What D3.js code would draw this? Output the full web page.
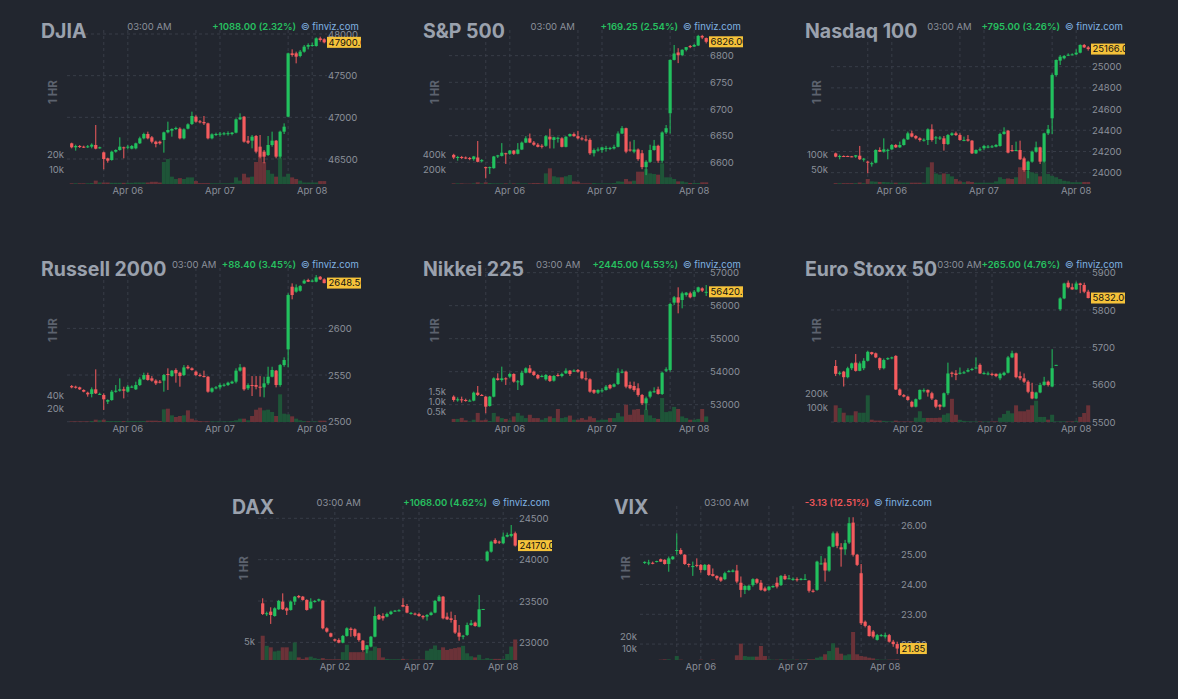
<!DOCTYPE html>
<html>
<head>
<meta charset="utf-8">
<title>Futures</title>
<script src="https://cdnjs.cloudflare.com/ajax/libs/d3/7.8.5/d3.min.js"></script>
<style>
    body { margin: 0; background: #22262f; font-family: Inter, "Noto Sans", sans-serif; }
    #grid { display: flex; flex-wrap: wrap; justify-content: center; width: 1146px; }
    svg { display: block; }
</style>
</head>
<body>
<div id="grid"></div>
<script>
// [open, high, low, close] per 1 hour candle
var djiaOHLC = [
    [46688,46696,46628,46640],[46640,46672,46600,46656],[46656,46668,46632,46648],[46648,46660,46632,46644],
    [46644,46668,46632,46652],[46648,46688,46628,46672],[46668,46908,46616,46624],[46632,46648,46624,46640],
    [46580,46588,46376,46500],[46508,46516,46456,46480],[46488,46600,46480,46588],[46588,46616,46576,46608],
    [46608,46760,46600,46648],[46640,46648,46508,46636],[46636,46668,46616,46648],[46624,46668,46616,46656],
    [46628,46696,46616,46688],[46688,46768,46680,46748],[46748,46816,46736,46800],[46800,46828,46736,46748],
    [46760,46776,46688,46708],[46708,46720,46640,46680],[46708,46720,46672,46688],[46728,46828,46576,46820],
    [46820,46948,46808,46848],[46840,46868,46768,46860],[46860,46888,46848,46872],[46864,46880,46736,46748],
    [46748,46868,46736,46856],[46864,46928,46856,46916],[46920,47068,46908,47016],[47008,47024,46936,46948],
    [46952,46968,46928,46944],[46944,47016,46908,46928],[46928,46936,46736,46748],[46748,46808,46736,46796],
    [46796,46816,46776,46800],[46800,46824,46768,46804],[46804,46824,46784,46808],[46808,46832,46780,46810],
    [46800,46824,46784,46816],[46816,46988,46808,46976],[46976,47048,46968,47000],[47008,47016,46696,46708],
    [46720,46776,46680,46696],[46720,46788,46628,46768],[46776,46788,46568,46588],[46648,46788,46508,46528],
    [46588,46608,46448,46528],[46548,46776,46536,46668],[46668,46828,46648,46720],[46720,46728,46508,46528],
    [46528,46840,46508,46828],[46828,46928,46800,46888],[47008,47776,47000,47768],[47768,47816,47728,47748],
    [47768,47788,47648,47728],[47736,47808,47720,47788],[47788,47868,47776,47848],[47848,47888,47816,47868],
    [47856,47896,47848,47868],[47856,47960,47848,47948],[47948,47968,47908,47928],[47936,47948,47888,47900]
];
var djiaVolume = [0.5,0.5,0.5,0.5,0.5,0.7,2.3,1,1,1,0.8,0.8,0.8,0.8,0.8,0.8,1,1,1,1,1.5,1.5,1,15,17,5,3.4,4,3.4,4.5,4.5,2,
    0.6,0.6,0.6,0.5,0.5,0.5,0.5,0.5,0.8,4.5,2.3,7,4.5,5,15,19,15,9.5,7,5,18,5,7,4.5,3.4,2.3,1,1,1,1,2,2];

var spxOHLC = [
    [6614,6616,6606,6609],[6609,6612,6603,6610],[6610,6612,6606,6609],[6609,6611,6606,6608],
    [6608,6610,6604,6607],[6606,6612,6603,6611],[6609,6640,6600,6601],[6602,6606,6600,6604],
    [6591,6592,6570,6589],[6590,6592,6578,6591],[6589,6612,6588,6611],[6611,6614,6608,6613],
    [6612,6636,6611,6618],[6617,6618,6597,6616],[6616,6623,6614,6622],[6622,6623,6614,6616],
    [6616,6636,6615,6624],[6624,6639,6623,6637],[6637,6649,6636,6645],[6645,6654,6636,6637],
    [6637,6640,6631,6633],[6633,6636,6628,6629],[6631,6634,6626,6630],[6631,6651,6629,6649],
    [6648,6663,6626,6643],[6642,6648,6626,6647],[6645,6648,6637,6646],[6645,6647,6628,6629],
    [6629,6649,6628,6648],[6649,6654,6648,6653],[6653,6656,6648,6649],[6649,6659,6643,6645],
    [6645,6648,6641,6643],[6643,6651,6639,6641],[6642,6645,6614,6617],[6617,6626,6611,6623],
    [6623,6628,6620,6624],[6623,6629,6618,6628],[6626,6631,6620,6627],[6626,6629,6623,6627],
    [6626,6633,6624,6629],[6629,6658,6628,6654],[6654,6668,6653,6664],[6664,6665,6617,6620],
    [6624,6639,6620,6623],[6620,6642,6617,6624],[6624,6626,6603,6606],[6617,6623,6587,6591],
    [6591,6604,6576,6601],[6601,6633,6599,6623],[6623,6642,6622,6631],[6631,6633,6599,6603],
    [6603,6658,6599,6656],[6656,6670,6653,6664],[6692,6793,6654,6792],[6792,6820,6791,6804],
    [6806,6814,6786,6801],[6801,6812,6799,6811],[6811,6816,6808,6816],[6818,6820,6814,6816],
    [6817,6822,6816,6820],[6819,6839,6818,6837],[6837,6839,6831,6834],[6833,6834,6823,6826]
];
var spxVolume = [9,9,9,5,5,9,23,9,23,14,9,9,9,9,9,9,9,9,9,9,14,14,9,145,214,105,91,91,105,123,36,32,
    9,9,9,14,9,9,9,9,14,36,32,68,36,45,168,168,205,145,136,127,282,91,91,68,36,36,23,14,14,14,23,23];

var ndxOHLC = [
    [24182,24189,24145,24151],[24151,24170,24126,24157],[24157,24163,24148,24156],[24157,24161,24148,24154],
    [24154,24158,24145,24151],[24151,24167,24139,24164],[24160,24252,24120,24126],[24126,24139,24104,24132],
    [24104,24113,23994,24094],[24088,24104,24057,24089],[24094,24220,24088,24214],[24214,24239,24195,24198],
    [24198,24324,24189,24220],[24214,24226,24126,24215],[24220,24270,24214,24261],[24261,24270,24233,24239],
    [24239,24293,24233,24261],[24261,24324,24255,24314],[24314,24387,24308,24371],[24371,24396,24333,24340],
    [24346,24355,24314,24324],[24324,24333,24293,24308],[24308,24324,24293,24311],[24308,24418,24261,24409],
    [24409,24456,24293,24308],[24324,24346,24270,24333],[24330,24346,24308,24331],[24324,24346,24208,24270],
    [24270,24365,24261,24355],[24355,24381,24346,24371],[24371,24387,24346,24355],[24355,24371,24302,24308],
    [24308,24340,24296,24309],[24314,24355,24293,24302],[24302,24308,24176,24182],[24182,24220,24176,24214],
    [24214,24239,24201,24220],[24230,24261,24214,24252],[24245,24261,24230,24246],[24245,24261,24233,24248],
    [24245,24270,24239,24261],[24252,24377,24245,24365],[24365,24428,24358,24387],[24396,24403,24182,24189],
    [24214,24261,24198,24213],[24208,24293,24201,24214],[24214,24302,24120,24126],[24135,24151,24009,24025],
    [24025,24113,23947,24104],[24104,24208,24094,24198],[24198,24293,24189,24239],[24239,24245,24082,24104],
    [24104,24377,24094,24371],[24371,24450,24355,24409],[24513,24937,24365,24921],[24921,25069,24906,25063],
    [25057,25110,25016,25094],[25079,25110,25069,25101],[25110,25126,25101,25113],[25113,25126,25107,25116],
    [25116,25164,25110,25132],[25132,25211,25126,25205],[25205,25214,25176,25182],[25182,25195,25151,25166]
];
var ndxVolume = [3,3,3,3,3,3,5,3,17,9,8,7,7,6,4.5,4.5,4.5,4.5,4.5,4.5,4.5,4.5,4.5,57,74,36,32,36,34,26,17,9,
    6,9,7,4.5,4.5,4.5,4.5,4.5,9,23,17,19,17,23,57,74,45,40,36,26,74,34,28,23,17,11,9,6,6,6,7,7];

var rutOHLC = [
    [2538.2,2539.3,2535.8,2536.8],[2537.5,2538.6,2535.5,2536.5],[2536.8,2537.5,2534.0,2534.7],[2534.0,2534.7,2531.5,2532.2],
    [2531.1,2532.2,2526.8,2529.3],[2529.7,2536.8,2526.1,2534.7],[2534.7,2556.1,2529.7,2530.4],[2529.7,2531.1,2528.6,2529.8],
    [2528.6,2530.4,2512.5,2524.0],[2521.5,2524.0,2519.0,2523.2],[2523.2,2534.0,2522.5,2532.2],[2532.2,2539.3,2531.1,2533.2],
    [2533.2,2546.5,2532.2,2534.7],[2534.7,2537.5,2525.0,2533.2],[2532.2,2539.3,2531.1,2537.5],[2537.5,2538.9,2536.1,2537.6],
    [2534.7,2542.9,2534.0,2539.3],[2539.3,2547.5,2538.2,2545.4],[2545.4,2552.5,2544.7,2550.0],[2550.0,2552.5,2544.0,2544.7],
    [2546.5,2548.9,2542.9,2544.0],[2544.0,2545.4,2539.3,2541.1],[2542.9,2544.7,2541.1,2542.5],[2544.0,2551.1,2532.2,2550.0],
    [2551.1,2557.2,2534.0,2550.0],[2548.9,2555.4,2548.2,2554.7],[2555.4,2557.2,2541.8,2551.8],[2552.5,2553.6,2537.5,2548.9],
    [2550.0,2560.7,2548.9,2558.2],[2558.9,2560.7,2556.1,2557.2],[2557.2,2558.2,2554.7,2555.4],[2553.6,2554.7,2548.9,2550.0],
    [2550.0,2551.8,2548.2,2548.9],[2548.9,2554.7,2547.5,2548.2],[2548.2,2548.9,2531.1,2532.2],[2532.2,2536.8,2531.1,2535.8],
    [2536.1,2538.2,2534.7,2536.8],[2536.8,2541.1,2534.7,2539.3],[2539.3,2541.1,2537.5,2539.6],[2539.3,2542.9,2538.2,2541.8],
    [2541.1,2544.0,2540.4,2542.9],[2542.9,2557.2,2541.1,2554.7],[2554.7,2561.8,2553.6,2558.2],[2558.2,2558.9,2533.2,2534.7],
    [2535.8,2541.1,2534.0,2539.3],[2539.3,2548.9,2527.5,2538.9],[2539.3,2548.9,2534.7,2537.5],[2537.5,2548.9,2526.8,2536.8],
    [2536.8,2548.2,2526.1,2541.1],[2541.1,2558.9,2539.3,2548.2],[2548.2,2558.9,2547.5,2555.4],[2554.7,2555.4,2536.8,2539.3],
    [2539.3,2561.8,2537.5,2560.7],[2560.7,2569.0,2558.9,2566.1],[2577.5,2637.5,2558.2,2635.7],[2644.6,2648.2,2631.1,2635.7],
    [2639.3,2647.1,2638.2,2643.9],[2640.3,2646.4,2639.3,2645.3],[2648.2,2652.5,2647.5,2651.1],[2651.8,2653.2,2649.6,2650.0],
    [2650.7,2652.5,2649.6,2651.1],[2650.0,2657.1,2649.3,2654.6],[2655.3,2656.1,2651.8,2652.5],[2652.5,2653.6,2648.2,2648.5]
];
var rutVolume = [1,1,1,1,1,1.5,3.5,2.5,3.5,1.5,1.5,1.5,1.5,1.5,1.5,1.5,1.5,1.5,1.5,2,2,2,1.5,19,20,10,7.5,9,10,17.5,5,2.5,
    1.5,1,1,1,1,1,1,1,1.5,2.5,5,5,2.5,9,18.5,21.5,17.5,18.5,15,9,41.5,12.5,11.5,8.5,5,2.5,1.5,1,1,1,2,2];

var nikkeiOHLC = [
    [53243,53283,53091,53142],[53142,53223,53091,53162],[53162,53243,53061,53142],[53142,53182,53091,53122],
    [53122,53162,53102,53123],[53122,53395,53102,53364],[53364,53566,53263,53294],[53294,53324,53263,53283],
    [53243,53263,52738,52940],[52960,53263,52940,53243],[53243,53829,53223,53798],[53798,53950,53728,53748],
    [53748,54152,53698,53798],[53798,53829,53597,53768],[53849,53970,53809,53930],[53930,53950,53667,53698],
    [53698,53748,53445,53708],[53597,54031,53566,53970],[53970,54132,53950,54101],[54101,54202,53950,53970],
    [54000,54031,53869,53899],[53899,53930,53768,53798],[53869,53909,53829,53870],[53768,53930,53728,53899],
    [53869,53899,53687,53718],[53728,53899,53698,53869],[53899,53950,53849,53869],[53869,53970,53829,53930],
    [53950,54101,53930,54031],[54031,54051,53869,53930],[54031,54071,53990,54032],[54051,54081,53970,54000],
    [54000,54031,53768,53798],[53798,54000,53728,53788],[53768,53798,53364,53395],[53445,53465,53324,53364],
    [53364,53465,53324,53445],[53425,53496,53364,53435],[53445,53597,53425,53546],[53597,53627,53465,53496],
    [53546,53647,53526,53617],[53627,54101,53597,53970],[53970,54071,53950,54000],[54000,54031,53496,53546],
    [53597,53698,53465,53496],[53566,53698,53395,53445],[53496,53647,53243,53294],[53294,53324,52990,53041],
    [53041,53243,52839,53192],[53243,53425,53192,53395],[53395,53526,53364,53405],[53465,53546,53304,53324],
    [53324,54000,53294,53970],[54031,54132,53990,54071],[54051,56091,54000,56051],[56091,56293,56020,56253],
    [56253,56556,55768,56091],[56172,56424,55919,56374],[56323,56414,56273,56394],[56374,56424,56222,56253],
    [56273,56475,56253,56424],[56424,56576,56394,56556],[56525,56556,56414,56455],[56410,56626,56293,56420]
];
var nikkeiVolume = [0.15,0.15,0.2,0.08,0.03,0.11,0.44,0.08,0.11,0.05,0.44,0.27,0.19,0.15,0.08,0.27,0.44,0.31,0.19,0.35,
    0.19,0.19,0.11,0.19,0.27,0.19,0.63,0.19,0.23,0.31,0.11,0.11,0.19,0.11,0.27,0.19,0.08,0.11,0.11,0.19,0.19,0.44,
    0.27,0.84,0.35,0.6,0.63,0.35,0.6,0.32,0.19,0.15,1.16,0.48,0.52,0.73,0.63,0.27,0.19,0.11,0.11,0.15,0.63,0.27];

var sx5eOHLC = [
    [5650,5666,5623,5629],[5629,5636,5625,5632],[5635,5637,5595,5620],[5620,5648,5617,5644],
    [5644,5659,5639,5657],[5659,5682,5635,5637],[5637,5662,5636,5657],[5644,5671,5639,5664],
    [5664,5691,5662,5688],[5687,5688,5679,5682],[5684,5686,5671,5673],[5671,5673,5639,5644],
    [5644,5670,5641,5666],[5668,5673,5666,5671],[5671,5675,5668,5673],[5677,5679,5586,5587],
    [5587,5590,5570,5572],[5572,5575,5566,5568],[5568,5570,5557,5559],[5554,5557,5539,5541],
    [5541,5563,5539,5561],[5561,5587,5559,5586],[5584,5590,5579,5585],[5586,5587,5568,5579],
    [5577,5581,5559,5563],[5559,5561,5537,5541],[5546,5548,5532,5541],[5541,5579,5539,5577],
    [5577,5659,5572,5630],[5632,5635,5620,5629],[5630,5639,5612,5626],[5629,5646,5627,5632],
    [5632,5637,5629,5633],[5635,5644,5633,5639],[5641,5645,5637,5642],[5644,5673,5641,5646],
    [5653,5657,5629,5630],[5630,5635,5627,5631],[5629,5635,5625,5630],[5629,5632,5623,5626],
    [5629,5630,5620,5623],[5617,5632,5612,5629],[5626,5635,5623,5632],[5632,5677,5630,5673],
    [5673,5691,5671,5684],[5684,5686,5617,5620],[5623,5635,5612,5617],[5617,5630,5604,5608],
    [5608,5612,5577,5581],[5581,5605,5561,5563],[5563,5581,5561,5579],[5579,5605,5577,5599],
    [5599,5621,5597,5608],[5608,5611,5595,5599],[5595,5695,5593,5644],[5652,5653,5652,5653],
    [5802,5834,5798,5831],[5831,5873,5829,5871],[5873,5879,5858,5861],[5861,5871,5854,5855],
    [5855,5876,5854,5871],[5871,5873,5845,5867],[5867,5873,5845,5849],[5849,5854,5831,5832]
];
var sx5eVolume = [115,97,64,46,46,74,64,64,184,16,10,10,8,5,5,10,4,4,4,4,30,74,28,28,28,28,30,50,60,160,50,15,
    8,5,4,4,4,4,4,4,4,30,55,78,60,115,74,74,85,115,147,35,35,16,50,4,5,5,4,4,8,35,62,115];

var daxOHLC = [
    [23472,23533,23331,23343],[23343,23372,23319,23352],[23372,23424,23223,23331],[23319,23424,23311,23412],
    [23400,23513,23392,23501],[23493,23593,23392,23400],[23412,23424,23331,23384],[23392,23505,23384,23493],
    [23493,23561,23452,23553],[23561,23573,23533,23545],[23553,23561,23505,23513],[23513,23521,23384,23392],
    [23412,23533,23400,23493],[23493,23513,23480,23501],[23505,23529,23493,23521],[23505,23513,23158,23170],
    [23170,23182,23118,23130],[23110,23118,23061,23069],[23037,23045,23009,23021],[23029,23049,22989,22997],
    [22997,23090,22989,23078],[23078,23182,23069,23170],[23166,23182,23069,23150],[23158,23170,23061,23078],
    [23110,23118,23009,23029],[23021,23029,22888,22908],[22916,22969,22868,22965],[22949,23078,22940,23069],
    [23069,23432,23061,23319],[23331,23343,23271,23279],[23319,23352,23263,23291],[23311,23360,23303,23343],
    [23343,23384,23331,23372],[23376,23392,23368,23384],[23384,23400,23372,23388],[23452,23533,23424,23432],
    [23440,23464,23352,23360],[23352,23368,23335,23356],[23348,23360,23327,23343],[23343,23360,23311,23319],
    [23319,23331,23279,23303],[23311,23343,23263,23331],[23331,23372,23323,23360],[23360,23513,23352,23501],
    [23501,23573,23493,23553],[23553,23561,23279,23291],[23311,23360,23271,23279],[23291,23372,23239,23271],
    [23271,23331,23102,23118],[23118,23210,23021,23069],[23069,23090,23037,23081],[23090,23239,23078,23210],
    [23210,23271,23202,23231],[23239,23251,23190,23198],[23190,23573,23182,23400],[23403,23404,23402,23404],
    [23988,24109,23976,24097],[24097,24230,24085,24218],[24238,24258,24190,24198],[24218,24230,24190,24206],
    [24198,24327,24190,24278],[24278,24327,24270,24299],[24287,24419,24270,24311],[24319,24339,24158,24170]
];
var daxVolume = [6.5,3.8,3.4,2.3,2.5,3.4,3.4,2.3,4.7,0.7,0.3,0.7,0.9,0.5,0.3,0.5,0.2,0.2,0.2,0.2,2.1,4.1,2.1,2.1,2.1,
    2.1,3.4,2.5,3.6,3.2,0.7,0.3,0.2,0.2,0.2,0.3,0.1,0.1,0.1,0.1,0.1,2.5,3.0,3.9,2.7,3.4,2.7,3.0,3.2,3.4,3.8,1.8,1.0,
    0.7,1.4,0.2,0.5,0.3,0.3,0.3,0.3,1.6,3.6,5.5];

var vixOHLC = [
    [24.74,24.78,24.69,24.76],[24.71,24.83,24.65,24.74],[24.73,24.77,24.68,24.71],[24.77,24.80,24.74,24.79],
    [24.85,24.87,24.76,24.77],[24.83,24.85,24.67,24.69],[24.69,24.94,24.43,24.88],[24.85,24.96,24.83,24.94],
    [25.14,25.72,25.00,25.16],[25.16,25.22,25.00,25.03],[25.00,25.02,24.66,24.69],[24.69,24.71,24.58,24.66],
    [24.60,24.77,24.29,24.62],[24.66,24.88,24.58,24.65],[24.66,24.69,24.40,24.49],[24.49,24.69,24.47,24.66],
    [24.66,24.69,24.29,24.32],[24.35,24.54,24.27,24.29],[24.29,24.31,24.15,24.21],[24.24,24.27,24.09,24.13],
    [24.18,24.43,24.15,24.38],[24.43,24.49,24.41,24.45],[24.43,24.51,24.41,24.47],[24.47,24.66,24.04,24.10],
    [24.06,24.27,23.57,23.82],[23.82,23.98,23.68,23.95],[23.82,23.98,23.79,23.96],[23.98,24.21,23.93,24.18],
    [24.18,24.21,24.02,24.06],[24.06,24.15,23.79,23.82],[23.87,23.93,23.76,23.79],[23.82,23.95,23.79,23.93],
    [23.91,23.97,23.89,23.95],[24.06,24.24,23.87,23.93],[23.98,24.32,23.95,24.29],[24.29,24.35,24.15,24.18],
    [24.20,24.32,24.18,24.21],[24.18,24.24,24.13,24.19],[24.18,24.24,24.10,24.17],[24.18,24.22,24.14,24.19],
    [24.18,24.35,24.15,24.19],[24.13,24.15,23.73,23.79],[23.79,23.84,23.73,23.77],[23.82,24.80,23.79,24.77],
    [24.69,24.96,24.67,24.71],[24.74,24.88,24.10,24.47],[24.47,25.30,24.43,25.27],[25.27,25.78,25.25,25.72],
    [25.72,25.78,25.22,25.30],[25.25,25.39,24.60,25.18],[25.18,25.50,25.00,25.39],[25.41,26.26,25.36,26.06],
    [26.08,26.26,24.94,25.00],[25.00,25.03,24.62,24.66],[24.38,24.69,22.64,22.70],[22.75,22.79,22.56,22.61],
    [22.61,22.64,22.25,22.27],[22.42,22.47,22.19,22.25],[22.14,22.34,22.12,22.30],[22.29,22.34,22.25,22.30],
    [22.25,22.38,22.19,22.30],[22.30,22.34,22.05,22.08],[22.08,22.14,21.91,22.00],[22.00,22.08,21.67,21.85]
];
var vixVolume = [0,0,0,0,0.3,0.6,0.6,0,3.4,0.3,0,0,0,0,0.3,0,0,0.3,0,0,0,0,0,4,14,3.4,2.9,2.9,2.9,12,3.4,0.6,
    0.3,0.3,0.6,0.3,0.3,0.3,0.3,0.3,0.3,0.6,0.6,2,2.9,4.9,7.7,14.3,10.6,5.4,4,4.9,24,4.9,3.4,2.9,2,1.4,0.6,0.3,0.3,0.3,0.3,0.6];

var usDates = ["Apr 06", "Apr 07", "Apr 08"];
var usDateIdx = [14, 37, 60];
var usGridIdx = [8, 14, 31, 37, 54, 60];
var euDates = ["Apr 02", "Apr 07", "Apr 08"];
var euDateIdx = [18, 39, 60];
var euGridIdx = [18, 35, 39, 60];

var panels = [
    { name: "DJIA", change: "+1088.00 (2.32%)", up: true, ohlc: djiaOHLC, volume: djiaVolume,
      price: [46200, 48072], priceTicks: [46500, 47000, 47500, 48000], volMax: 106.3, volTicks: [10, 20],
      dates: usDates, dateIdx: usDateIdx, gridIdx: usGridIdx },
    { name: "S&P 500", change: "+169.25 (2.54%)", up: true, ohlc: spxOHLC, volume: spxVolume,
      price: [6559.35, 6851.85], priceTicks: [6600, 6650, 6700, 6750, 6800], volMax: 2127, volTicks: [200, 400],
      dates: usDates, dateIdx: usDateIdx, gridIdx: usGridIdx },
    { name: "Nasdaq 100", change: "+795.00 (3.26%)", up: true, ohlc: ndxOHLC, volume: ndxVolume,
      price: [23893, 25364.9], priceTicks: [24000, 24200, 24400, 24600, 24800, 25000], volMax: 531.7, volTicks: [50, 100],
      dates: usDates, dateIdx: usDateIdx, gridIdx: usGridIdx },
    { name: "Russell 2000", change: "+88.40 (3.45%)", up: true, ohlc: rutOHLC, volume: rutVolume,
      price: [2499.7, 2666.8], priceTicks: [2500, 2550, 2600], volMax: 234, volTicks: [20, 40],
      dates: usDates, dateIdx: usDateIdx, gridIdx: usGridIdx },
    { name: "Nikkei 225", change: "+2445.00 (4.53%)", up: true, ohlc: nikkeiOHLC, volume: nikkeiVolume,
      price: [52475, 57202], priceTicks: [53000, 54000, 55000, 56000, 57000], volMax: 7.55, volTicks: [0.5, 1.0, 1.5], volDec: 1,
      dates: usDates, dateIdx: usDateIdx, gridIdx: usGridIdx },
    { name: "Euro Stoxx 50", change: "+265.00 (4.76%)", up: true, ohlc: sx5eOHLC, volume: sx5eVolume,
      price: [5500, 5917.8], priceTicks: [5500, 5600, 5700, 5800, 5900], volMax: 1076, volTicks: [100, 200],
      dates: euDates, dateIdx: euDateIdx, gridIdx: euGridIdx },
    { name: "DAX", change: "+1068.00 (4.62%)", up: true, ohlc: daxOHLC, volume: daxVolume,
      price: [22787, 24673], priceTicks: [23000, 23500, 24000, 24500], volMax: 41.8, volTicks: [5],
      dates: euDates, dateIdx: euDateIdx, gridIdx: euGridIdx },
    { name: "VIX", change: "-3.13 (12.51%)", up: false, ohlc: vixOHLC, volume: vixVolume,
      price: [21.465, 26.705], priceTicks: [22, 23, 24, 25, 26], priceDec: 2, volMax: 133.7, volTicks: [10, 20],
      dates: usDates, dateIdx: usDateIdx, gridIdx: usGridIdx }
];

var panelW = 382, panelH = 238;
var plotTop = 28, plotBottom = 184;
var gridLeft = 67, gridRight = 327;

var gridColor = "#383d48";
var upColor = "#22c15e";
var downColor = "#f45b5e";
var volUp = "#1e5538";
var volDown = "#6b3238";
var labelColor = "#8b909a";

var x = d3.scaleBand().domain(d3.range(64)).range([69.7, 326.2]);
var bw = x.bandwidth();
function cx(i) { return x(i) + bw / 2; }

panels.forEach(function (p, k) {
    var svg = d3.select("#grid").append("svg")
        .attr("width", panelW)
        .attr("height", panelH);

    svg.append("defs").append("clipPath").attr("id", "clip" + k)
        .append("rect").attr("width", 361).attr("height", panelH);

    var g = svg.append("g").attr("clip-path", "url(#clip" + k + ")");

    var y = d3.scaleLinear().domain(p.price).range([plotBottom, plotTop]);
    var yv = d3.scaleLinear().domain([0, p.volMax]).range([plotBottom, plotTop]);

    // dashed grid
    g.selectAll(".hgrid").data(p.priceTicks).enter().append("line")
        .attr("x1", gridLeft).attr("x2", gridRight)
        .attr("y1", function (d) { return y(d); })
        .attr("y2", function (d) { return y(d); })
        .attr("stroke", gridColor).attr("stroke-dasharray", "3,3");

    g.selectAll(".vgrid").data(p.gridIdx).enter().append("line")
        .attr("x1", cx).attr("x2", cx)
        .attr("y1", 30).attr("y2", plotBottom)
        .attr("stroke", gridColor).attr("stroke-dasharray", "3,3");

    // volume
    g.selectAll(".vol").data(p.volume).enter().append("rect")
        .attr("x", function (d, i) { return x(i); })
        .attr("width", bw)
        .attr("y", function (d) { return yv(d); })
        .attr("height", function (d) { return plotBottom - yv(d); })
        .attr("fill", function (d, i) { return p.ohlc[i][3] >= p.ohlc[i][0] ? volUp : volDown; });

    // candles
    var candle = g.selectAll(".candle").data(p.ohlc).enter().append("g");
    candle.append("line")
        .attr("x1", function (d, i) { return cx(i); })
        .attr("x2", function (d, i) { return cx(i); })
        .attr("y1", function (d) { return y(d[1]); })
        .attr("y2", function (d) { return y(d[2]); })
        .attr("stroke", function (d) { return d[3] >= d[0] ? upColor : downColor; })
        .attr("stroke-width", 1);
    candle.append("rect")
        .attr("x", function (d, i) { return cx(i) - 1.6; })
        .attr("width", 3.2)
        .attr("y", function (d) { return y(Math.max(d[0], d[3])); })
        .attr("height", function (d) { return Math.max(1, Math.abs(y(d[0]) - y(d[3]))); })
        .attr("fill", function (d) { return d[3] >= d[0] ? upColor : downColor; });

    // price axis
    var pa = g.append("g").attr("transform", "translate(328,0)")
        .call(d3.axisRight(y).tickValues(p.priceTicks).tickSize(0).tickPadding(0)
            .tickFormat(function (d) { return p.priceDec ? d.toFixed(p.priceDec) : d; }));
    pa.select(".domain").remove();
    pa.attr("font-family", "Inter, sans-serif").attr("font-size", 9.5).attr("color", labelColor);

    // volume axis
    var va = g.append("g").attr("transform", "translate(64,0)")
        .call(d3.axisLeft(yv).tickValues(p.volTicks).tickSize(0).tickPadding(0)
            .tickFormat(function (d) { return (p.volDec ? d.toFixed(p.volDec) : d) + "k"; }));
    va.select(".domain").remove();
    va.attr("font-family", "Inter, sans-serif").attr("font-size", 9.5).attr("color", labelColor);

    // date axis
    var da = g.append("g").attr("transform", "translate(0,187.5)")
        .call(d3.axisBottom(x).tickValues(p.dateIdx).tickSize(0).tickPadding(0)
            .tickFormat(function (d, i) { return p.dates[i]; }));
    da.select(".domain").remove();
    da.attr("font-family", "Inter, sans-serif").attr("font-size", 9.5).attr("color", labelColor);

    // last price tag
    var last = p.ohlc[p.ohlc.length - 1][3];
    var tag = g.append("g").attr("transform", "translate(327," + y(last) + ")");
    var tagText = tag.append("text")
        .attr("x", 1.5).attr("dy", "0.35em")
        .attr("font-size", 9.5).attr("fill", "#111")
        .text(last.toFixed(2));
    var tw = tagText.node().getComputedTextLength();
    tag.insert("rect", "text")
        .attr("y", -5.5).attr("height", 11).attr("width", tw + 3)
        .attr("fill", "#f5c23a");

    // 1 HR
    g.append("text")
        .attr("transform", "translate(53,92) rotate(-90)")
        .attr("text-anchor", "middle").attr("dy", "0.35em")
        .attr("font-size", 11.5).attr("font-weight", 700).attr("fill", "#5c626e")
        .text("1 HR");

    // header
    var title = g.append("text")
        .attr("x", 41).attr("y", 37.5)
        .attr("font-size", 19.5).attr("font-weight", 700).attr("fill", "#9aa1ad")
        .text(p.name);
    var change = g.append("text")
        .attr("x", 296).attr("y", 29.5).attr("text-anchor", "end")
        .attr("font-size", 9.5).attr("font-weight", 600)
        .attr("fill", p.up ? "#27c060" : "#f0575a")
        .text(p.change);
    g.append("text")
        .attr("x", 301).attr("y", 29.5)
        .attr("font-size", 9.5).attr("fill", "#80b3e2")
        .text("\u00a9 finviz.com");

    var titleEnd = 41 + title.node().getComputedTextLength();
    var changeStart = 296 - change.node().getComputedTextLength();
    g.append("text")
        .attr("x", (titleEnd + changeStart) / 2).attr("y", 29.5)
        .attr("text-anchor", "middle")
        .attr("font-size", 9.5).attr("fill", "#8b909a")
        .text("03:00 AM");
});
</script>
</body>
</html>
